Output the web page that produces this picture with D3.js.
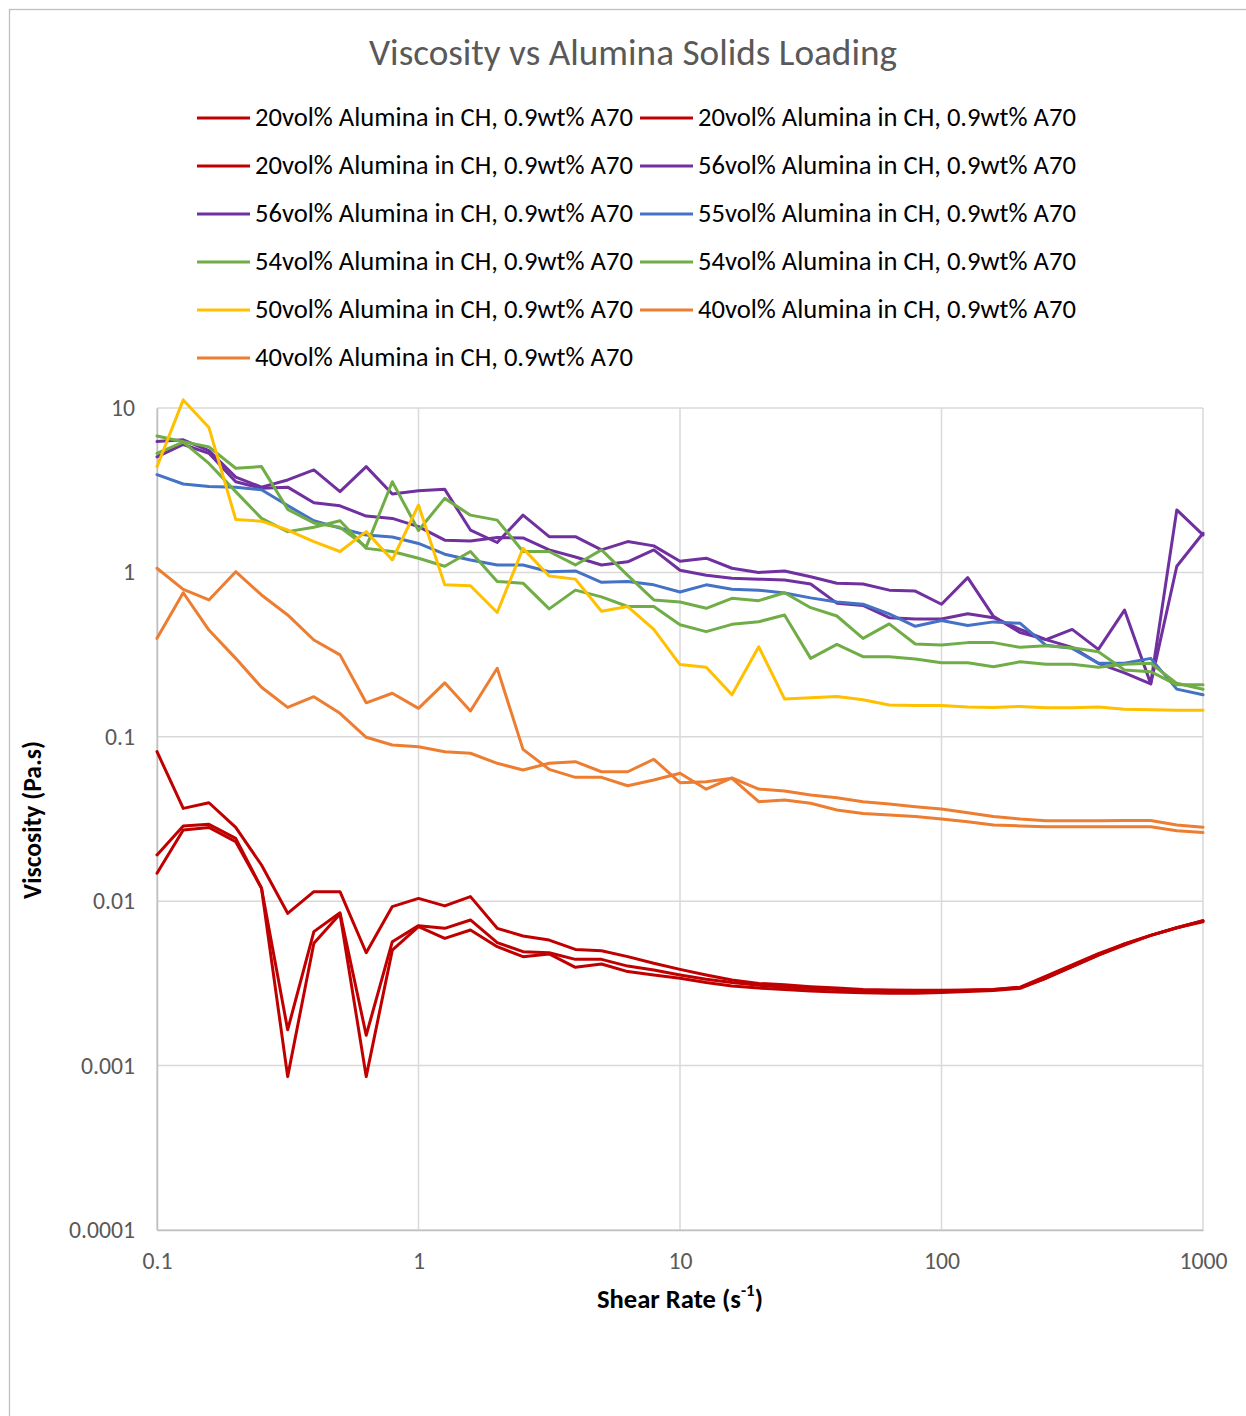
<!DOCTYPE html>
<html>
<head>
<meta charset="utf-8">
<script src="https://cdn.jsdelivr.net/npm/d3@7"></script>
<style>
  html, body { margin: 0; padding: 0; background: #fff; }
  svg { display: block; }
  text { font-family: Carlito, Calibri, Lato, "Open Sans", sans-serif; }
</style>
</head>
<body>
<svg id="chart" width="1246" height="1416"></svg>
<script>
// ---------- data ----------
const shearRate = [0.1, 0.126, 0.158, 0.2, 0.251, 0.316, 0.398, 0.501, 0.631, 0.794,
  1, 1.26, 1.58, 2, 2.51, 3.16, 3.98, 5.01, 6.31, 7.94,
  10, 12.6, 15.8, 20, 25.1, 31.6, 39.8, 50.1, 63.1, 79.4,
  100, 126, 158, 200, 251, 316, 398, 501, 631, 794, 1000];

const red20a = [0.0812, 0.0367, 0.0397, 0.0281, 0.0166, 0.00844, 0.01143, 0.01143, 0.00486, 0.00927,
  0.0104, 0.00936, 0.01066, 0.00684, 0.00614, 0.0058, 0.00509, 0.005, 0.0046, 0.00419,
  0.00385, 0.00356, 0.00332, 0.00316, 0.0031, 0.00302, 0.00296, 0.0029, 0.00288, 0.00287,
  0.00287, 0.00288, 0.0029, 0.003, 0.0035, 0.0041, 0.0048, 0.0055, 0.0062, 0.0069, 0.0076];
const red20b = [0.0191, 0.0287, 0.0294, 0.0241, 0.012, 0.00165, 0.00653, 0.0085, 0.00153, 0.00567,
  0.0071, 0.00684, 0.00769, 0.0056, 0.00493, 0.00486, 0.00443, 0.00443, 0.00403, 0.00381,
  0.00356, 0.00335, 0.0032, 0.00308, 0.003, 0.00294, 0.0029, 0.00285, 0.00282, 0.00282,
  0.00284, 0.00287, 0.0029, 0.00298, 0.0034, 0.004, 0.0047, 0.0054, 0.0062, 0.0069, 0.0076];
const red20c = [0.0148, 0.0271, 0.0281, 0.023, 0.012, 0.000857, 0.00555, 0.00836, 0.000857, 0.00504,
  0.007, 0.00594, 0.00668, 0.00529, 0.0046, 0.00478, 0.00396, 0.00415, 0.00373, 0.00356,
  0.0034, 0.0032, 0.00305, 0.00296, 0.0029, 0.00284, 0.0028, 0.00277, 0.00275, 0.00275,
  0.00278, 0.00282, 0.00286, 0.00295, 0.0034, 0.004, 0.0047, 0.0055, 0.0062, 0.0069, 0.0075];
const purple56a = [6.25, 6.4, 5.5, 3.8, 3.3, 3.65, 4.2, 3.1, 4.4, 3.0,
  3.14, 3.2, 1.81, 1.52, 2.23, 1.65, 1.65, 1.37, 1.54, 1.45,
  1.17, 1.22, 1.06, 1.0, 1.02, 0.94, 0.86, 0.85, 0.78, 0.77,
  0.64, 0.93, 0.54, 0.43, 0.39, 0.45, 0.34, 0.59, 0.21, 2.4, 1.69];
const purple56b = [5.05, 6.0, 5.3, 3.56, 3.25, 3.3, 2.65, 2.54, 2.2, 2.13,
  1.9, 1.57, 1.55, 1.63, 1.62, 1.37, 1.24, 1.11, 1.16, 1.37,
  1.03, 0.96, 0.92, 0.91, 0.9, 0.85, 0.65, 0.63, 0.53, 0.52,
  0.52, 0.56, 0.53, 0.45, 0.39, 0.35, 0.28, 0.245, 0.21, 1.09, 1.73];
const blue55 = [3.93, 3.45, 3.33, 3.3, 3.18, 2.55, 2.06, 1.86, 1.69, 1.64,
  1.5, 1.29, 1.19, 1.11, 1.11, 1.01, 1.02, 0.87, 0.88, 0.84,
  0.76, 0.84, 0.79, 0.78, 0.75, 0.7, 0.66, 0.64, 0.56, 0.47,
  0.51, 0.475, 0.5, 0.49, 0.36, 0.345, 0.28, 0.28, 0.3, 0.195, 0.18];
const green54a = [6.75, 6.24, 5.8, 4.3, 4.4, 2.42, 2.0, 1.88, 1.43, 3.56,
  1.8, 2.82, 2.23, 2.08, 1.34, 1.34, 1.11, 1.37, 0.96, 0.68,
  0.66, 0.605, 0.696, 0.673, 0.752, 0.61, 0.543, 0.397, 0.486, 0.367,
  0.362, 0.374, 0.374, 0.35, 0.358, 0.348, 0.329, 0.255, 0.249, 0.207, 0.207];
const green54b = [5.3, 6.2, 4.6, 3.1, 2.13, 1.77, 1.88, 2.06, 1.4, 1.34,
  1.22, 1.09, 1.34, 0.88, 0.86, 0.6, 0.78, 0.71, 0.62, 0.62,
  0.48, 0.436, 0.483, 0.501, 0.551, 0.3, 0.365, 0.307, 0.307, 0.297,
  0.282, 0.282, 0.267, 0.286, 0.276, 0.276, 0.265, 0.276, 0.28, 0.2115, 0.1945];
const yellow50 = [4.4, 11.2, 7.6, 2.1, 2.05, 1.81, 1.54, 1.34, 1.77, 1.19,
  2.57, 0.84, 0.83, 0.57, 1.4, 0.95, 0.91, 0.58, 0.62, 0.45,
  0.275, 0.265, 0.18, 0.353, 0.17, 0.173, 0.176, 0.168, 0.156, 0.155,
  0.155, 0.152, 0.151, 0.153, 0.15, 0.15, 0.152, 0.147, 0.146, 0.145, 0.145];
const orange40a = [1.06, 0.789, 0.68, 1.01, 0.729, 0.551, 0.388, 0.315, 0.161, 0.184,
  0.149, 0.213, 0.1436, 0.261, 0.0839, 0.0634, 0.0567, 0.0567, 0.0504, 0.0546,
  0.06, 0.048, 0.0562, 0.0481, 0.0468, 0.0442, 0.0426, 0.0403, 0.039, 0.0376,
  0.0364, 0.0345, 0.0327, 0.0316, 0.0309, 0.0309, 0.0309, 0.031, 0.031, 0.0291, 0.0282];
const orange40b = [0.397, 0.752, 0.446, 0.3, 0.2, 0.151, 0.1754, 0.139, 0.0993, 0.0891,
  0.0871, 0.0812, 0.0794, 0.069, 0.0628, 0.069, 0.0706, 0.0613, 0.0613, 0.073,
  0.0526, 0.0533, 0.0559, 0.0403, 0.0413, 0.0394, 0.0359, 0.0342, 0.0334, 0.0327,
  0.0316, 0.0304, 0.0291, 0.0287, 0.0284, 0.0284, 0.0284, 0.0284, 0.0284, 0.0268, 0.0262];

const seriesNames = [
  "20vol% Alumina in CH, 0.9wt% A70", "20vol% Alumina in CH, 0.9wt% A70",
  "20vol% Alumina in CH, 0.9wt% A70", "56vol% Alumina in CH, 0.9wt% A70",
  "56vol% Alumina in CH, 0.9wt% A70", "55vol% Alumina in CH, 0.9wt% A70",
  "54vol% Alumina in CH, 0.9wt% A70", "54vol% Alumina in CH, 0.9wt% A70",
  "50vol% Alumina in CH, 0.9wt% A70", "40vol% Alumina in CH, 0.9wt% A70",
  "40vol% Alumina in CH, 0.9wt% A70"];
const seriesValues = [red20a, red20b, red20c, purple56a, purple56b, blue55,
  green54a, green54b, yellow50, orange40a, orange40b];
const seriesColors = ["#C00000", "#C00000", "#C00000", "#7030A0", "#7030A0", "#4472C4",
  "#70AD47", "#70AD47", "#FFC000", "#ED7D31", "#ED7D31"];

const xTicks = [0.1, 1, 10, 100, 1000];
const xTickLabels = ["0.1", "1", "10", "100", "1000"];
const yTicks = [0.0001, 0.001, 0.01, 0.1, 1, 10];
const yTickLabels = ["0.0001", "0.001", "0.01", "0.1", "1", "10"];

const titleText = "Viscosity vs Alumina Solids Loading";
const xTitle = "Shear Rate (s";
const xTitleSup = "-1";
const yTitle = "Viscosity (Pa.s)";

// ---------- drawing ----------
const svg = d3.select("#chart");
const L = 157, R = 1203, T = 408, B = 1230;
const x = d3.scaleLog().domain([0.1, 1000]).range([L, R]);
const y = d3.scaleLog().domain([0.0001, 10]).range([B, T]);

function fitWidth(sel, target) {
  const fs = parseFloat(sel.attr("font-size"));
  const w = sel.node().getComputedTextLength();
  if (w > 0) sel.attr("font-size", (fs * target / w).toFixed(2));
}

// chart border
svg.append("rect").attr("x", 9.5).attr("y", 9.5).attr("width", 1400).attr("height", 1600)
  .attr("fill", "none").attr("stroke", "#BFBFBF").attr("stroke-width", 1.3);

// title
const title = svg.append("text").attr("x", 633).attr("y", 65).attr("text-anchor", "middle")
  .attr("font-size", 31).attr("fill", "#595959").text(titleText);
fitWidth(title, 528);

// gridlines
svg.append("g").selectAll("line").data(yTicks).join("line")
  .attr("x1", L).attr("x2", R).attr("y1", d => y(d)).attr("y2", d => y(d))
  .attr("stroke", "#D9D9D9").attr("stroke-width", 1.5);
svg.append("g").selectAll("line").data(xTicks).join("line")
  .attr("x1", d => x(d)).attr("x2", d => x(d)).attr("y1", T).attr("y2", B)
  .attr("stroke", "#D9D9D9").attr("stroke-width", 1.5);

// axes
const yAxis = svg.append("g").attr("transform", `translate(${L},0)`)
  .call(d3.axisLeft(y).tickValues(yTicks).tickFormat((d, i) => yTickLabels[i]).tickSize(0).tickPadding(22));
yAxis.select(".domain").attr("stroke", "#BFBFBF").attr("stroke-width", 1.5);
yAxis.selectAll("text").attr("font-size", 19).attr("fill", "#595959")
  .style("font-family", "Carlito, Calibri, Lato, 'Open Sans', sans-serif");

const xAxis = svg.append("g").attr("transform", `translate(0,${B})`)
  .call(d3.axisBottom(x).tickValues(xTicks).tickFormat((d, i) => xTickLabels[i]).tickSize(0).tickPadding(22));
xAxis.select(".domain").attr("stroke", "#BFBFBF").attr("stroke-width", 1.5);
xAxis.selectAll("text").attr("font-size", 19).attr("fill", "#595959")
  .style("font-family", "Carlito, Calibri, Lato, 'Open Sans', sans-serif");

// fit tick font to reference widths
const probe = yAxis.selectAll("text").filter((d, i) => i === 0);
const pw = probe.node().getComputedTextLength();
const tickFs = (19 * 66 / pw).toFixed(2);
yAxis.selectAll("text").attr("font-size", tickFs);
xAxis.selectAll("text").attr("font-size", tickFs);

// axis titles
const xt = svg.append("text").attr("x", 680).attr("y", 1308).attr("text-anchor", "middle")
  .attr("font-size", 22).attr("font-weight", "bold").attr("fill", "#000");
const xtMain = xt.append("tspan").text(xTitle);
const xtSup = xt.append("tspan").attr("font-size", 14).attr("dy", -9).text(xTitleSup);
const xtEnd = xt.append("tspan").attr("dy", 9).text(")");
{
  const w = xt.node().getComputedTextLength();
  const k = 166 / w;
  xt.attr("font-size", (22 * k).toFixed(2));
  xtSup.attr("font-size", (14 * k).toFixed(2)).attr("dy", (-10 * k).toFixed(2));
  xtEnd.attr("dy", (10 * k).toFixed(2));
}
const yt = svg.append("text").attr("transform", "translate(41,820) rotate(-90)")
  .attr("text-anchor", "middle").attr("font-size", 22).attr("font-weight", "bold")
  .attr("fill", "#000").text(yTitle);
fitWidth(yt, 158);

// lines
const line = d3.line().x((d, i) => x(shearRate[i])).y(d => y(d)).curve(d3.curveLinear);
svg.append("g").selectAll("path").data(seriesValues).join("path")
  .attr("d", d => line(d)).attr("fill", "none")
  .attr("stroke", (d, i) => seriesColors[i]).attr("stroke-width", 3)
  .attr("stroke-linejoin", "round").attr("stroke-linecap", "round");

// legend
const legend = svg.append("g");
const colLine = [197, 640], colText = [255, 698];
seriesNames.forEach((name, k) => {
  const row = Math.floor(k / 2), col = k % 2;
  const cy = 118 + 48 * row;
  legend.append("line").attr("x1", colLine[col]).attr("x2", colLine[col] + 53)
    .attr("y1", cy).attr("y2", cy).attr("stroke", seriesColors[k]).attr("stroke-width", 3);
  const t = legend.append("text").attr("x", colText[col]).attr("y", cy + 8)
    .attr("font-size", 22).attr("fill", "#000").text(name);
  fitWidth(t, 378);
});
</script>
</body>
</html>
